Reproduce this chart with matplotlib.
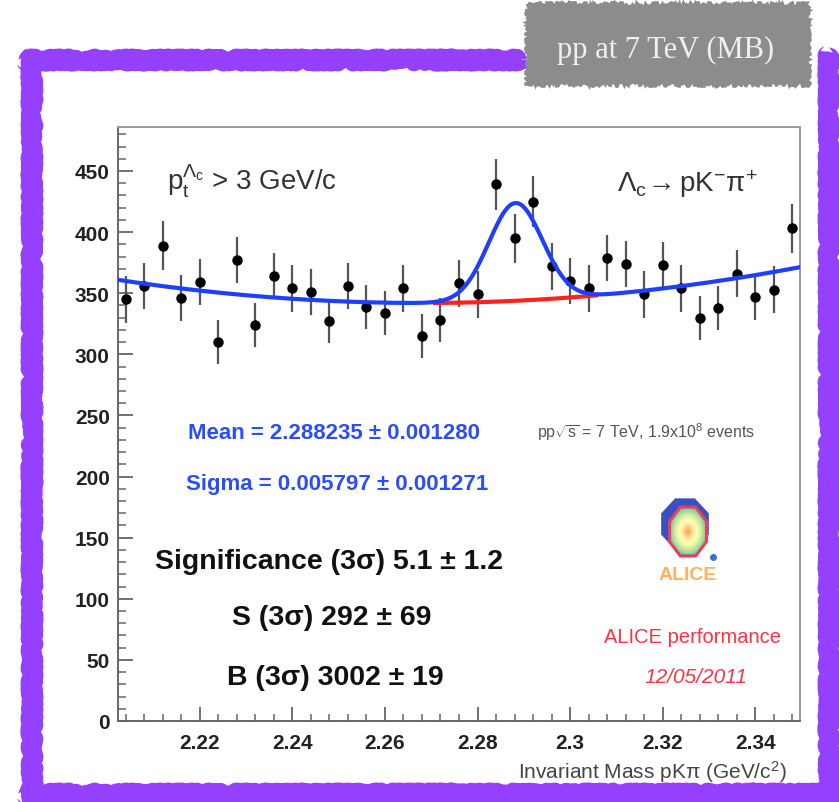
import numpy as np
import matplotlib
matplotlib.use('Agg')
import matplotlib.pyplot as plt
import matplotlib.ticker as mticker
from matplotlib.patches import Polygon, Rectangle
from matplotlib.lines import Line2D

plt.rcParams['font.family'] = ['Liberation Sans', 'DejaVu Sans']
plt.rcParams['mathtext.fontset'] = 'custom'
plt.rcParams['mathtext.rm'] = 'Liberation Sans'
plt.rcParams['mathtext.it'] = 'Liberation Sans:italic'
plt.rcParams['mathtext.bf'] = 'Liberation Sans:bold'

# ── Datos ───────────────────────────────────────────────────────────────────
masa = [2.204, 2.208, 2.212, 2.216, 2.220, 2.224, 2.228, 2.232, 2.236, 2.240,
        2.244, 2.248, 2.252, 2.256, 2.260, 2.264, 2.268, 2.272, 2.276, 2.280,
        2.284, 2.288, 2.292, 2.296, 2.300, 2.304, 2.308, 2.312, 2.316, 2.320,
        2.324, 2.328, 2.332, 2.336, 2.340, 2.344, 2.348]
cuentas = [345, 356, 389, 346, 359, 310, 377, 324, 364, 354,
           351, 327, 356, 339, 334, 354, 315, 328, 358, 349,
           439, 395, 425, 372, 360, 354, 379, 374, 349, 373,
           354, 330, 338, 366, 347, 353, 403]
errores = [19, 19, 20, 19, 19, 18, 19, 18, 19, 19,
           19, 18, 19, 18, 18, 19, 18, 18, 19, 19,
           21, 20, 21, 19, 19, 19, 19, 19, 19, 19,
           19, 18, 18, 19, 19, 19, 20]

# parámetros del ajuste (gaussiana + pol2)
MEDIA = 2.288235
SIGMA = 0.005797
AMP = 80.0
B_MIN = 342.0
B_M0 = 2.268
B_CURV = 4395.0

x_ticks = [2.22, 2.24, 2.26, 2.28, 2.30, 2.32, 2.34]
x_ticklabels = ['2.22', '2.24', '2.26', '2.28', '2.3', '2.32', '2.34']
y_ticks = [0, 50, 100, 150, 200, 250, 300, 350, 400, 450]

W, H = 839, 803


def fondo(m):
    return B_MIN + B_CURV * (m - B_M0) ** 2


def total(m):
    return fondo(m) + AMP * np.exp(-0.5 * ((m - MEDIA) / SIGMA) ** 2)


def fx(x):
    return x / W


def fy(y):
    return 1 - y / H


fig = plt.figure(figsize=(W / 100, H / 100), dpi=100)
fig.patch.set_facecolor('white')

ax = fig.add_axes([fx(118), fy(722), (800 - 118) / W, (722 - 128) / H])
ax.set_xlim(2.2023, 2.3497)
ax.set_ylim(0, 486)

ax.errorbar(masa, cuentas, yerr=errores, fmt='o', color='black', ms=6.5,
            ecolor='#555555', elinewidth=1.6, capsize=0, zorder=3)

mm = np.linspace(2.2023, 2.3497, 600)
ax.plot(mm, total(mm), color='#1f3fff', lw=3, zorder=4)
mr = np.linspace(MEDIA - 3 * SIGMA, MEDIA + 3 * SIGMA, 200)
ax.plot(mr, fondo(mr), color='#ff2020', lw=3, zorder=3.5)

ax.set_xticks(x_ticks)
ax.set_xticklabels(x_ticklabels)
ax.set_yticks(y_ticks)
ax.xaxis.set_minor_locator(mticker.MultipleLocator(0.004))
ax.yaxis.set_minor_locator(mticker.MultipleLocator(10))
ax.tick_params(which='both', direction='in', top=False, right=False, color='#666666')
ax.tick_params(axis='y', which='major', length=11, width=1.3, pad=6)
ax.tick_params(axis='y', which='minor', length=5.5, width=1.1)
ax.tick_params(axis='x', which='major', length=10, width=1.3, pad=9)
ax.tick_params(axis='x', which='minor', length=5, width=1.1)
for lab in ax.get_xticklabels() + ax.get_yticklabels():
    lab.set_fontsize(15)
    lab.set_fontweight('bold')
    lab.set_color('#222222')
for s in ax.spines.values():
    s.set_color('#999999')
    s.set_linewidth(1.4)
ax.spines['left'].set_color('#666666')
ax.spines['bottom'].set_color('#666666')

# ── Textos ──────────────────────────────────────────────────────────────────
fig.text(fx(167), fy(191), r'$\mathregular{p_{t}^{\Lambda_{c}}}$ > 3 GeV/c',
         fontsize=20, color='#333333', va='baseline', ha='left')
fig.text(fx(617), fy(192), r'$\mathregular{\Lambda_{c}\!\rightarrow pK^{-}\pi^{+}}$',
         fontsize=20, color='#333333', va='baseline', ha='left')
fig.text(fx(188), fy(439), 'Mean = 2.288235 ± 0.001280', fontsize=16,
         fontweight='bold', color='#2b4cff', va='baseline', ha='left')
fig.text(fx(186), fy(490), 'Sigma = 0.005797 ± 0.001271', fontsize=16,
         fontweight='bold', color='#2b4cff', va='baseline', ha='left')
fig.text(fx(155), fy(569), 'Significance (3σ) 5.1 ± 1.2', fontsize=20.5,
         fontweight='bold', color='#111111', va='baseline', ha='left')
fig.text(fx(332), fy(625), 'S (3σ) 292 ± 69', fontsize=20.5,
         fontweight='bold', color='#111111', va='baseline', ha='center')
fig.text(fx(335), fy(685), 'B (3σ) 3002 ± 19', fontsize=20.5,
         fontweight='bold', color='#111111', va='baseline', ha='center')
fig.text(fx(537), fy(438), r'pp$\mathregular{\sqrt{s}}$ = 7 TeV, 1.9x10$\mathregular{^{8}}$ events',
         fontsize=11.5, color='#555555', va='baseline', ha='left')
fig.text(fx(692), fy(643), 'ALICE performance', fontsize=14.5,
         color='#ff3344', va='baseline', ha='center')
fig.text(fx(696), fy(683), '12/05/2011', fontsize=15, style='italic',
         color='#ff3344', va='baseline', ha='center')
fig.text(fx(787), fy(779), r'Invariant Mass pK$\mathregular{\pi}$ (GeV/c$\mathregular{^{2}}$)',
         fontsize=15, color='#444444', va='baseline', ha='right')

# ── Logo ALICE ──────────────────────────────────────────────────────────────
lg = fig.add_axes([fx(655), fy(588), 67 / W, 93 / H])
lg.axis('off')


def octagono(cx, cy, rx, ry):
    ang = np.deg2rad(22.5 + 45 * np.arange(8))
    return np.column_stack([cx + rx * np.cos(ang), cy + ry * np.sin(ang)])


lg.add_patch(Polygon(octagono(30, 63, 25, 27), closed=True, color='#3a4fc0', zorder=1))
gx, gy = np.meshgrid(np.linspace(-1, 1, 80), np.linspace(-1, 1, 80))
rad = np.sqrt(gx ** 2 + gy ** 2)
img = lg.imshow(rad, extent=(12, 54, 28, 83), cmap='Spectral', vmin=-0.45, vmax=1.25,
                origin='lower', aspect='auto', zorder=2)
roj = Polygon(octagono(33, 55.5, 20, 26.5), closed=True, facecolor='none',
              edgecolor='#e8405a', lw=2.2, zorder=3)
lg.add_patch(roj)
img.set_clip_path(roj)
lg.plot([58], [30], 'o', color='#3a6fd0', ms=4)
lg.text(33, 8, 'ALICE', fontsize=14, fontweight='bold', color='#ffb060',
        ha='center', va='baseline')
lg.set_xlim(0, 67)
lg.set_ylim(0, 93)

# ── Marco morado y etiqueta ─────────────────────────────────────────────────
morado = '#9640ff'
bordes = [([32, 32], [55, 800]), ([23, 522], [61, 61]),
          ([23, 839], [795, 795]), ([829, 829], [53, 803])]
for bx, by in bordes:
    ln = Line2D([fx(v) for v in bx], [fy(v) for v in by], color=morado, lw=13,
                transform=fig.transFigure, solid_capstyle='butt')
    ln.set_sketch_params(scale=2.5, length=6, randomness=20)
    fig.add_artist(ln)

caja = Rectangle((fx(527), fy(85)), (808 - 527) / W, (85 - 5) / H,
                 transform=fig.transFigure, facecolor='#8c8c8c', edgecolor='#8c8c8c', lw=2)
caja.set_sketch_params(scale=2, length=5, randomness=20)
fig.add_artist(caja)
fig.text(fx(666), fy(50), 'pp at 7 TeV (MB)', family=['Liberation Serif', 'DejaVu Serif'],
         fontsize=22, color='#f0f0f0', ha='center', va='center')

plt.savefig('out.png', dpi=100)
